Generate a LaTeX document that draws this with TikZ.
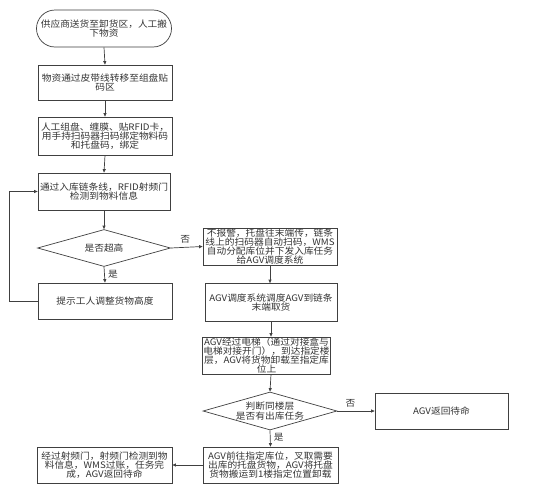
\documentclass[tikz,border=0pt]{standalone}
\usepackage{fontspec}
\newfontfamily\cjk[FakeStretch=1.08]{Noto Sans CJK SC}
\usetikzlibrary{shapes.geometric,shapes.misc,arrows.meta}
\begin{document}
\begin{tikzpicture}[x=1pt,y=-1pt,
  every node/.style={font=\cjk\fontsize{9}{9.2}\selectfont, text=black!80},
  box/.style={draw=black!75, line width=0.7pt, align=center, inner sep=0.5pt, minimum width=134pt},
  dec/.style={draw=black!75, line width=0.7pt, diamond, aspect=3.5, align=center, inner sep=0pt, minimum width=134pt},
  term/.style={draw=black!75, line width=0.7pt, rounded rectangle, align=center, inner sep=1pt, minimum width=137pt, minimum height=37pt},
  arr/.style={draw=black!75, line width=0.7pt, -{Triangle[length=3.5pt,width=3pt]}},
  lbl/.style={font=\cjk\fontsize{9}{10}\selectfont}
]
\useasboundingbox (0,0) rectangle (554,498);
\fill[white] (0,0) rectangle (554,498);

\node[term] (s) at (104,28.5) {供应商送货至卸货区，人工搬\\下物资};
\node[box, minimum height=35pt] (b2) at (105,82.5) {物资通过皮带线转移至组盘贴\\码区};
\node[box, minimum height=38pt] (b3) at (105,136) {人工组盘、缠膜、贴RFID卡，\\用手持扫码器扫码绑定物料码\\和托盘码，绑定};
\node[box, minimum height=37pt, minimum width=132pt] (b4) at (104,191.5) {通过入库链条线，RFID射频门\\检测到物料信息};
\node[dec, minimum width=133pt, minimum height=37pt] (d1) at (104,248) {是否超高};
\node[box, minimum height=36pt] (tip) at (105,301) {提示工人调整货物高度};

\node[box, minimum height=37pt] (b5) at (270,246.5) {不报警，托盘往末端传，链条\\线上的扫码器自动扫码，WMS\\自动分配库位并下发入库任务\\给AGV调度系统};
\node[box, minimum height=38pt, minimum width=132pt] (b6) at (271,302.5) {AGV调度系统调度AGV到链条\\末端取货};
\node[box, minimum height=36pt, minimum width=124pt] (b7) at (266.5,355.5) {AGV经过电梯（通过对接盒与\\电梯对接开门），到达指定楼\\层，AGV将货物卸载至指定库\\位上};
\node[dec, minimum width=134pt, minimum height=38pt] (d2) at (270,411) {判断同楼层\\是否有出库任务};
\node[box, minimum height=36pt, minimum width=133pt] (ret) at (441.5,411) {AGV返回待命};
\node[box, minimum height=36pt, minimum width=135pt] (go) at (270.5,465) {AGV前往指定库位，叉取需要\\出库的托盘货物，AGV将托盘\\货物搬运到1楼指定位置卸载};
\node[box, minimum height=36pt, minimum width=135pt] (pass) at (104.5,465) {经过射频门，射频门检测到物\\料信息，WMS过账，任务完\\成，AGV返回待命};

\coordinate (lp1) at (9,301);
\coordinate (lp2) at (9,191.5);

\draw[arr] (s.south) -- (b2.north);
\draw[arr] (b2.south) -- (b3.north);
\draw[arr] (b3.south) -- (b4.north);
\draw[arr] (b4.south) -- (d1.north);
\draw[arr] (d1.south) -- node[lbl, right, pos=0.45]{是} (tip.north);
\draw[arr] (d1.east) -- node[lbl, above, pos=0.45]{否} (b5.west);
\draw[arr] (tip.west) -- (lp1) -- (lp2) -- (b4.west);
\draw[arr] (b5.south) -- (b5.south |- b6.north);
\draw[arr] (b6.south) -- (b6.south |- b7.north);
\draw[arr] (b6.south |- b7.south) -- (d2.north);
\draw[arr] (d2.east) -- node[lbl, above, pos=0.35]{否} (ret.west);
\draw[arr] (d2.south) -- node[lbl, right, pos=0.4]{是} (go.north);
\draw[arr] (go.west) -- (pass.east);
\end{tikzpicture}
\end{document}
